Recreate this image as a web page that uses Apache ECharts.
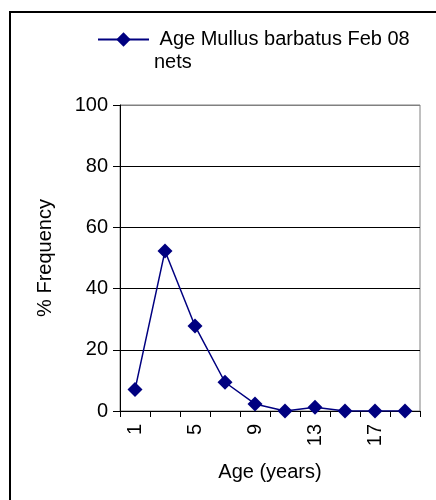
<!DOCTYPE html>
<html><head><meta charset="utf-8">
<script src="https://cdn.jsdelivr.net/npm/echarts@6/dist/echarts.min.js"></script>
<style>html,body{margin:0;padding:0;background:#fff}#c{width:436px;height:500px}</style>
</head><body><div id="c"></div>
<script>
const ages = ['1','3','5','7','9','11','13','15','17','19'];
const freq = [7, 52.3, 27.8, 9.4, 2.3, 0, 1.2, 0, 0, 0];
const yTicks = [0, 20, 40, 60, 80, 100];
const seriesName = ' Age Mullus barbatus Feb 08\nnets';
const font = 'Liberation Sans, Arial, sans-serif';
const chart = echarts.init(document.getElementById('c'), null, {renderer:'canvas'});
chart.setOption({
  animation: false,
  backgroundColor: '#fff',
  graphic: [{type:'rect', shape:{x:10, y:12, width:500, height:520}, style:{fill:'none', stroke:'#000', lineWidth:2}, silent:true}],
  legend: {
    left: 97, top: 5, padding: 0,
    itemWidth: 51, itemHeight: 18, itemGap: 8,
    formatter: function (n) { return '\n' + n; },
    textStyle: {fontFamily: font, fontSize: 20, color: '#000', lineHeight: 23},
    data: [seriesName]
  },
  grid: {left: 120, right: 16, top: 105, bottom: 89, show: true, borderColor: '#808080', borderWidth: 1},
  xAxis: {
    type: 'category', data: ages, boundaryGap: true,
    name: 'Age (years)', nameLocation: 'middle', nameGap: 51,
    nameTextStyle: {fontFamily: font, fontSize: 20, color: '#000'},
    axisLine: {lineStyle: {color: '#000', width: 1}},
    axisTick: {show: true, interval: 0, length: 6, lineStyle: {color: '#000'}},
    axisLabel: {interval: 1, rotate: 90, margin: 13, fontFamily: font, fontSize: 20, color: '#000'}
  },
  yAxis: {
    type: 'value', min: yTicks[0], max: yTicks[yTicks.length-1], interval: 20,
    name: '% Frequency', nameLocation: 'middle', nameGap: 65,
    nameTextStyle: {fontFamily: font, fontSize: 20, color: '#000'},
    axisLine: {show: true, lineStyle: {color: '#000', width: 1}},
    axisTick: {show: true, length: 7, lineStyle: {color: '#000'}},
    axisLabel: {margin: 12, fontFamily: font, fontSize: 20, color: '#000'},
    splitLine: {show: true, lineStyle: {color: ['#000','#000','#000','#000','#000','#808080'], width: 1}}
  },
  series: [{
    name: seriesName, type: 'line', data: freq,
    symbol: 'diamond', symbolSize: 15,
    lineStyle: {color: '#000080', width: 1.5},
    itemStyle: {color: '#000080'}
  }]
});
</script></body></html>
